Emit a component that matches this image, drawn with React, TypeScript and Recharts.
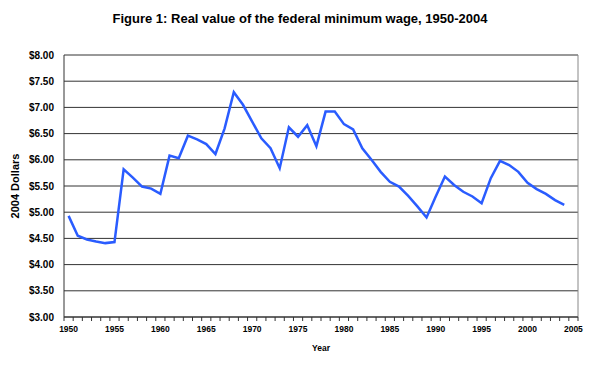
import { LineChart, Line, XAxis, YAxis, CartesianGrid, ReferenceLine } from "recharts";

// calendar years 1950-2004
const years = [
  1950, 1951, 1952, 1953, 1954, 1955, 1956, 1957, 1958, 1959,
  1960, 1961, 1962, 1963, 1964, 1965, 1966, 1967, 1968, 1969,
  1970, 1971, 1972, 1973, 1974, 1975, 1976, 1977, 1978, 1979,
  1980, 1981, 1982, 1983, 1984, 1985, 1986, 1987, 1988, 1989,
  1990, 1991, 1992, 1993, 1994, 1995, 1996, 1997, 1998, 1999,
  2000, 2001, 2002, 2003, 2004,
];

const wages = [
  4.93, 4.55, 4.48, 4.44, 4.41, 4.43, 5.82, 5.66, 5.49, 5.45,
  5.35, 6.08, 6.03, 6.46, 6.39, 6.3, 6.11, 6.6, 7.29, 7.05,
  6.73, 6.41, 6.22, 5.84, 6.62, 6.44, 6.66, 6.26, 6.92, 6.92,
  6.68, 6.58, 6.22, 6.0, 5.77, 5.58, 5.49, 5.31, 5.11, 4.9,
  5.3, 5.68, 5.52, 5.39, 5.3, 5.17, 5.65, 5.98, 5.9, 5.77,
  5.56, 5.44, 5.35, 5.23, 5.14,
];

const yearLabels = [1950, 1955, 1960, 1965, 1970, 1975, 1980, 1985, 1990, 1995, 2000, 2005];
const dollarTicks = [3, 3.5, 4, 4.5, 5, 5.5, 6, 6.5, 7, 7.5, 8];

const data = years.map((year, i) => ({ year, wage: wages[i] }));
// tick marks sit between the year categories, like the original
const boundaryTicks = [...years, 2005].map((y) => y - 0.5).concat([2005.5]);

const font = "'Liberation Sans', Arial, sans-serif";
const xTickStyle = { fontSize: 8.5, fontWeight: "bold", fill: "#000", fontFamily: font };
const yTickStyle = { fontSize: 10, fontWeight: "bold", fill: "#000", fontFamily: font };

export default function App() {
  return (
    <div style={{ position: "absolute", left: 0, top: 0, width: 600, height: 367, background: "#fff" }}>
      <div
        style={{
          position: "absolute",
          top: 11,
          left: 0,
          width: 600,
          textAlign: "center",
          fontFamily: font,
          fontWeight: "bold",
          fontSize: 13,
        }}
      >
        Figure 1: Real value of the federal minimum wage, 1950-2004
      </div>
      <LineChart width={600} height={367} data={data} margin={{ top: 55, right: 22, left: 0, bottom: 0 }}>
        <CartesianGrid xAxisId="a" vertical={false} stroke="#333" strokeDasharray="" />
        <XAxis
          xAxisId="a"
          dataKey="year"
          type="number"
          domain={[1949.5, 2005.5]}
          ticks={boundaryTicks}
          interval={0}
          tickSize={4}
          tickFormatter={() => ""}
          height={4}
          stroke="#333"
        />
        <XAxis
          xAxisId="b"
          dataKey="year"
          type="number"
          domain={[1949.5, 2005.5]}
          ticks={yearLabels}
          interval={0}
          axisLine={false}
          tickLine={false}
          tickSize={0}
          tickMargin={5}
          tick={xTickStyle}
          height={46}
          label={{ value: "Year", position: "insideBottom", offset: 16, style: { ...xTickStyle, textAnchor: "middle" } }}
        />
        <YAxis
          domain={[3, 8]}
          ticks={dollarTicks}
          interval={0}
          width={64}
          tickLine={false}
          tickSize={8}
          tickMargin={2}
          tick={yTickStyle}
          tickFormatter={(v: number) => "$" + v.toFixed(2)}
          stroke="#333"
          label={{
            value: "2004 Dollars",
            angle: -90,
            position: "insideLeft",
            offset: 15,
            style: { fontSize: 11, fontWeight: "bold", fill: "#000", fontFamily: font, textAnchor: "middle" },
          }}
        />
        <ReferenceLine xAxisId="a" x={2005.5} stroke="#888" />
        <Line
          xAxisId="a"
          type="linear"
          dataKey="wage"
          stroke="#2a5cff"
          strokeWidth={2.5}
          dot={false}
          isAnimationActive={false}
        />
      </LineChart>
    </div>
  );
}
